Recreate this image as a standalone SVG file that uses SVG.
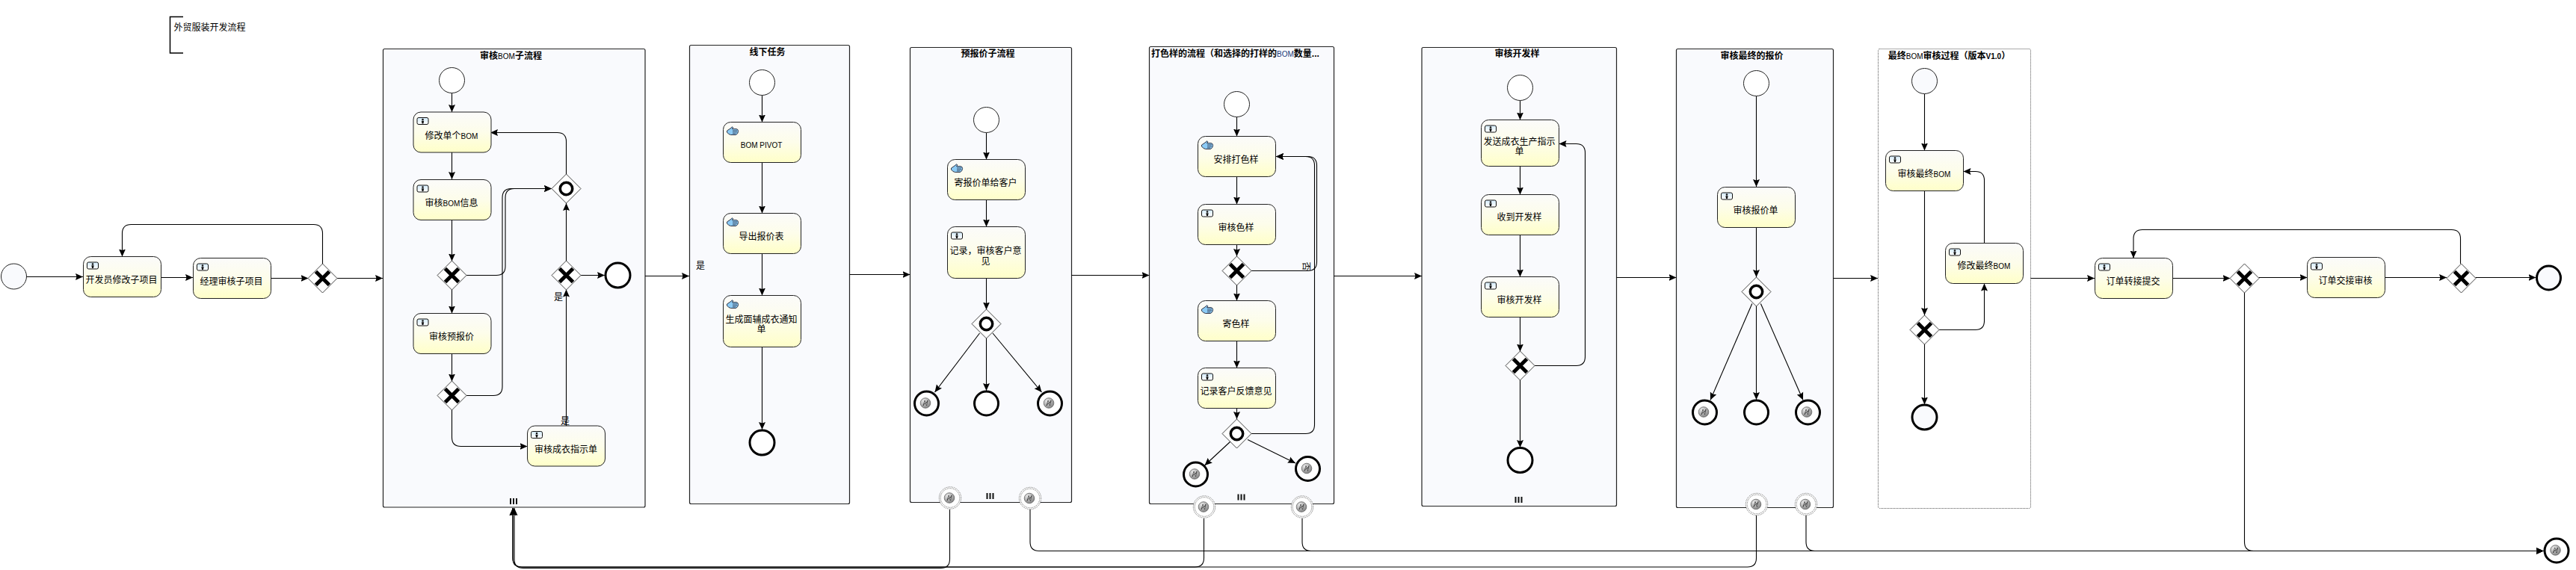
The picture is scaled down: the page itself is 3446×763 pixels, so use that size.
<svg xmlns="http://www.w3.org/2000/svg" xmlns:xlink="http://www.w3.org/1999/xlink" width="3446" height="763" viewBox="0 0 3446 763">
<style>
text{font-family:"Liberation Sans","Noto Sans CJK SC",sans-serif;font-size:12px;fill:#000}
.l{text-anchor:middle}
.b{font-weight:bold;text-anchor:middle}
.la{font-size:10px}
.sp{fill:#f9fafd;stroke:#222;stroke-width:1.2}
.task{fill:url(#tg);stroke:#222;stroke-width:1}
.c{fill:none;stroke:#000;stroke-width:1.1;marker-end:url(#a)}
.c0{fill:none;stroke:#000;stroke-width:1.1}
.gw{fill:#fff;stroke:#444;stroke-width:1}
.x{fill:none;stroke:#000;stroke-width:5}
.o{fill:none;stroke:#000;stroke-width:3.5}
.st{fill:#fff;stroke:#222;stroke-width:1}
.en{fill:#fff;stroke:#000;stroke-width:3}
.bd{fill:#fff;stroke:#444;stroke-width:.8;stroke-dasharray:1 1}
.bar{fill:#111}
</style>
<defs>
<linearGradient id="tg" x1="0" y1="0" x2="0" y2="1"><stop offset="0" stop-color="#fbfbfa"/><stop offset=".5" stop-color="#fdfdea"/><stop offset="1" stop-color="#ffffc8"/></linearGradient>
<linearGradient id="ug" x1="0" y1="0" x2="0" y2="1"><stop offset="0" stop-color="#d4ecfb"/><stop offset="1" stop-color="#fff"/></linearGradient>
<radialGradient id="eg" cx=".35" cy=".3" r=".8"><stop offset="0" stop-color="#eee"/><stop offset="1" stop-color="#777"/></radialGradient>
<marker id="a" viewBox="0 0 10 10" refX="10" refY="5" markerWidth="10" markerHeight="10" markerUnits="userSpaceOnUse" orient="auto"><path d="M0 .5L10 5L0 9.5L1.5 5Z" fill="#000"/></marker>
<g id="user"><rect x=".5" y=".5" width="15" height="9" rx="2" fill="url(#ug)" stroke="#111"/><circle cx="8" cy="3" r="1.3" fill="#111"/><path d="M6.3 4.8h3.4l-.8 3.6h-1.8z" fill="#111"/></g>
<g id="hand"><path d="M.5 6L5 3L7.5 .8L8.8 1.8L7.5 3.6H13Q15.6 4 15.6 6.5Q15.5 10 12.5 11.5H5.5Q2.5 11 .5 8Z" fill="#8ccbf5" stroke="#223" stroke-width=".9"/><path d="M8 5.8H14M8 7.8H14M8 9.8H12.5" stroke="#223" stroke-width=".7" fill="#fff"/></g>
<g id="err"><circle r="6.8" fill="url(#eg)" stroke="#666" stroke-width=".8"/><path d="M-3 3.5L-1 -3.5L1 .5L3 -3.5L1.5 3.5L-.5 -.5Z" fill="#fff" stroke="#333" stroke-width=".8"/></g>
<g id="bars"><rect x="-5" y="-4" width="2" height="8" class="bar"/><rect x="-1" y="-4" width="2" height="8" class="bar"/><rect x="3" y="-4" width="2" height="8" class="bar"/></g>
<g id="gx"><path class="gw" d="M0 -19.5L19.5 0L0 19.5L-19.5 0Z"/><path class="x" d="M-9 -9L9 9M9 -9L-9 9"/></g>
<g id="go"><path class="gw" d="M0 -19.5L19.5 0L0 19.5L-19.5 0Z"/><circle class="o" r="8.2"/></g>
<g id="bev"><circle class="bd" r="14.7"/><circle class="bd" r="12.8"/><use href="#err" x="-1" y="0"/></g>
</defs>
<rect width="3446" height="763" fill="#fff"/>

<g id="title-annotation">
<path d="M245 22.5H227.5V71H245" fill="none" stroke="#000" stroke-width="1.5"/>
<text x="232.5" y="40.5">外贸服装开发流程</text>
</g>

<g id="sp-review-bom"><rect class="sp" x="512.5" y="65.5" width="350.5" height="613.5" rx="2"/><text class="b" x="683.5" y="78.5">审核<tspan class="la" font-weight="normal">BOM</tspan>子流程</text><use href="#bars" x="687" y="671"/></g>
<g id="sp-offline"><rect class="sp" x="922.5" y="60.5" width="214" height="614" rx="2"/><text class="b" x="1026.5" y="74">线下任务</text></g>
<g id="sp-quote"><rect class="sp" x="1217.5" y="63.5" width="216" height="609" rx="2"/><text class="b" x="1321.5" y="76">预报价子流程</text><use href="#bars" x="1324.5" y="664"/></g>
<g id="sp-color"><rect class="sp" x="1537.5" y="62.5" width="247" height="612" rx="2"/><text class="b" x="1540" y="75.5" style="text-anchor:start">打色样的流程（和选择的打样的<tspan class="la" font-weight="normal" fill="#1a3a7a">BOM</tspan>数量...</text><use href="#bars" x="1660.5" y="665.5"/></g>
<g id="sp-devsample"><rect class="sp" x="1902" y="63.5" width="260.5" height="614" rx="2"/><text class="b" x="2029.5" y="76">审核开发样</text><use href="#bars" x="2031.5" y="669"/></g>
<g id="sp-finalquote"><rect class="sp" x="2242.5" y="65.5" width="210" height="614" rx="2"/><text class="b" x="2343.5" y="78.5">审核最终的报价</text></g>
<g id="sp-finalbom"><rect x="2512.5" y="65.5" width="204" height="615" rx="2" fill="#fff" stroke="#555" stroke-width="1" stroke-dasharray="1 1"/><text class="b" x="2607.5" y="78.5">最终<tspan class="la" font-weight="normal">BOM</tspan>审核过程（版本<tspan class="la">V1.0</tspan>）</text></g>

<g id="connectors">
<path class="c" d="M35.5 370.5H111"/>
<path class="c" d="M215 371.5H258"/>
<path class="c" d="M362 372.5H412.5"/>
<path class="c" d="M451 372.5H512"/>
<path class="c" d="M431.5 353V312.5Q431.5 300.5 419.5 300.5H175.5Q163.5 300.5 163.5 312.5V343.5"/>
<path class="c" d="M604.5 124.5V150"/>
<path class="c" d="M604.5 204V240"/>
<path class="c" d="M604.5 294.5V349.5"/>
<path class="c" d="M604.5 387.5V419.5"/>
<path class="c" d="M604.5 473.5V510.5"/>
<path class="c" d="M623.5 368.5H664Q676 368.5 676 356.5V264.5Q676 252.5 688 252.5H738"/>
<path class="c" d="M623.5 529.5H660Q672 529.5 672 517.5V264.5Q672 252.5 684 252.5H738"/>
<path class="c" d="M604.5 548.5V585.5Q604.5 597.5 616.5 597.5H705.5"/>
<path class="c" d="M757.5 570V387.5"/>
<path class="c" d="M757.5 349.5V272"/>
<path class="c" d="M757.5 233V189.5Q757.5 177.5 745.5 177.5H656"/>
<path class="c" d="M776.5 368.5H809"/>
<path class="c" d="M863 369.5H922"/>
<path class="c" d="M1019.5 127.5V163.5"/>
<path class="c" d="M1019.5 217.5V285.5"/>
<path class="c" d="M1019.5 339.5V395.5"/>
<path class="c" d="M1019.5 464.5V575"/>
<path class="c" d="M1137 367.5H1217.5"/>
<path class="c" d="M1319.5 177.5V213.5"/>
<path class="c" d="M1319.5 267.5V303.5"/>
<path class="c" d="M1319.5 372.5V414.5"/>
<path class="c" d="M1310.5 446L1250.5 525"/>
<path class="c" d="M1328 446L1393.5 525"/>
<path class="c" d="M1319.5 453V523"/>
<path class="c" d="M1433.5 368.5H1537.5"/>
<path class="c" d="M1654.5 156.5V182.5"/>
<path class="c" d="M1654.5 236.5V273.5"/>
<path class="c" d="M1654.5 327.5V343"/>
<path class="c" d="M1654.5 381.5V402.5"/>
<path class="c" d="M1654.5 456.5V492.5"/>
<path class="c" d="M1654.5 546.5V561"/>
<path class="c" d="M1646 591L1611.5 623"/>
<path class="c" d="M1669 588.5L1733 620"/>
<path class="c" d="M1673.5 580.5H1746.5Q1758.5 580.5 1758.5 568.5V221.5Q1758.5 209.5 1746.5 209.5H1707"/>
<path class="c" d="M1673.5 362.5H1749.5Q1761.5 362.5 1761.5 350.5V221.5Q1761.5 209.5 1749.5 209.5H1707"/>
<path class="c" d="M1784.5 369.5H1902"/>
<path class="c" d="M2033.5 134.5V160.5"/>
<path class="c" d="M2033.5 222.5V260.5"/>
<path class="c" d="M2033.5 314.5V370.5"/>
<path class="c" d="M2033.5 424.5V470.5"/>
<path class="c" d="M2033.5 508.5V599"/>
<path class="c" d="M2052.5 489.5H2108.5Q2120.5 489.5 2120.5 477.5V204.5Q2120.5 192.5 2108.5 192.5H2085.5"/>
<path class="c" d="M2162.5 371.5H2242.5"/>
<path class="c" d="M2349.5 128.5V250"/>
<path class="c" d="M2349.5 304.5V371"/>
<path class="c" d="M2349.5 409.5V535"/>
<path class="c" d="M2343.8 406.5L2288 535.5"/>
<path class="c" d="M2355.4 406.5L2412 535.5"/>
<path class="c" d="M2452.5 372.5H2512"/>
<path class="c" d="M2574.5 125.5V201.5"/>
<path class="c" d="M2574.5 255.5V422"/>
<path class="c" d="M2574.5 461V541.5"/>
<path class="c" d="M2593.5 441.5H2642.5Q2654.5 441.5 2654.5 429.5V379.5"/>
<path class="c" d="M2654.5 325.5V241.5Q2654.5 229.5 2642.5 229.5H2626.5"/>
<path class="c" d="M2716.5 372.5H2802"/>
<path class="c" d="M2906.5 372.5H2983.5"/>
<path class="c" d="M3021.5 371.5H3086.5"/>
<path class="c" d="M3190.5 371.5H3273"/>
<path class="c" d="M3311.5 371.5H3392.5"/>
<path class="c" d="M3291.5 353V319.5Q3291.5 307.5 3279.5 307.5H2866Q2854 307.5 2854 319.5V345.5"/>
<path class="c" d="M3002.5 391.5V725.5Q3002.5 737.5 3014.5 737.5H3402.5"/>
<path class="c" d="M1378 682V725.5Q1378 737.5 1390 737.5H3402.5"/>
<path class="c" d="M1742 694V725.5Q1742 737.5 1754 737.5H3402.5"/>
<path class="c" d="M2416 690V725.5Q2416 737.5 2428 737.5H3402.5"/>
<path class="c" d="M1270.5 682V748.5Q1270.5 760.5 1258.5 760.5H700Q688 760.5 688 748.5V680"/>
<path class="c" d="M1610.5 694V747Q1610.5 759 1598.5 759H698Q686 759 686 747V680"/>
<path class="c" d="M2349.5 690V747Q2349.5 759 2337.5 759H698Q686 759 686 747V680"/>
<g id="edge-labels">
<text class="l" x="747" y="402">是</text>
<text class="l" x="756" y="567.5">是</text>
<text class="l" x="937" y="360">是</text>
<text class="l" transform="translate(1743 356.5) rotate(90)">否</text>
</g>
</g>

<g id="ev-start"><circle cx="18.5" cy="370" r="17" fill="#f9fafd" stroke="#222"/></g>
<g id="t-dev-edit"><rect class="task" x="111.5" y="343.5" width="104" height="54" rx="10"/><use href="#user" x="116" y="350.5"/><text class="l" x="162.5" y="378.5">开发员修改子项目</text></g>
<g id="t-mgr-review"><rect class="task" x="258.5" y="345.5" width="104" height="54" rx="10"/><use href="#user" x="263" y="352.5"/><text class="l" x="309.5" y="380.5">经理审核子项目</text></g>
<use id="g-1" href="#gx" x="431.5" y="372.5"/>

<g id="sp1-start"><circle class="st" cx="604.5" cy="107.5" r="17"/></g>
<g id="t-edit-bom"><rect class="task" x="553" y="150" width="104" height="54" rx="10"/><use href="#user" x="557.5" y="157"/><text class="l" x="604" y="185.5">修改单个<tspan class="la">BOM</tspan></text></g>
<g id="t-review-bom"><rect class="task" x="553" y="240.5" width="104" height="54" rx="10"/><use href="#user" x="557.5" y="247.5"/><text class="l" x="604" y="275.5">审核<tspan class="la">BOM</tspan>信息</text></g>
<use id="g-2" href="#gx" x="604.5" y="368.5"/>
<g id="t-review-prequote"><rect class="task" x="553" y="419.5" width="104" height="54" rx="10"/><use href="#user" x="557.5" y="426.5"/><text class="l" x="604" y="454.5">审核预报价</text></g>
<use id="g-3" href="#gx" x="604.5" y="529.5"/>
<g id="t-review-garment"><rect class="task" x="705.5" y="570" width="104" height="54" rx="10"/><use href="#user" x="710" y="577"/><text class="l" x="757" y="606">审核成衣指示单</text></g>
<use id="g-4" href="#gx" x="757.5" y="368.5"/>
<use id="g-5" href="#go" x="757.5" y="252.5"/>
<g id="sp1-end"><circle class="en" cx="826.5" cy="368.5" r="16.5"/></g>

<g id="sp2-start"><circle class="st" cx="1019.5" cy="110.5" r="17"/></g>
<g id="t-bom-pivot"><rect class="task" x="967.5" y="163.5" width="104" height="54" rx="10"/><use href="#hand" x="972" y="169"/><text class="l la" x="1018.5" y="198">BOM PIVOT</text></g>
<g id="t-export"><rect class="task" x="967.5" y="285.5" width="104" height="54" rx="10"/><use href="#hand" x="972" y="291"/><text class="l" x="1018.5" y="320.5">导出报价表</text></g>
<g id="t-notice"><rect class="task" x="967.5" y="395.5" width="104" height="69" rx="10"/><use href="#hand" x="972" y="401"/><text class="l" x="1018.5" y="431.5">生成面辅成衣通知</text><text class="l" x="1018.5" y="445">单</text></g>
<g id="sp2-end"><circle class="en" cx="1019.5" cy="592.5" r="16.5"/></g>

<g id="sp3-start"><circle class="st" cx="1319.5" cy="160.5" r="17"/></g>
<g id="t-send-quote"><rect class="task" x="1267.5" y="213.5" width="104" height="54" rx="10"/><use href="#hand" x="1272" y="219"/><text class="l" x="1318.5" y="248.5">寄报价单给客户</text></g>
<g id="t-record-opinion"><rect class="task" x="1267.5" y="303.5" width="104" height="69" rx="10"/><use href="#user" x="1272" y="310.5"/><text class="l" x="1318.5" y="339.5">记录，审核客户意</text><text class="l" x="1318.5" y="354">见</text></g>
<use id="g-6" href="#go" x="1319.5" y="433.5"/>
<g id="sp3-end-a"><circle class="en" cx="1239.5" cy="540" r="16"/><use href="#err" x="1238" y="539.5"/></g>
<g id="sp3-end-b"><circle class="en" cx="1319.5" cy="540" r="16"/></g>
<g id="sp3-end-c"><circle class="en" cx="1404.5" cy="540" r="16"/><use href="#err" x="1403" y="539.5"/></g>
<use id="b-1" href="#bev" x="1271" y="666.5"/>
<use id="b-2" href="#bev" x="1378" y="667"/>

<g id="sp4-start"><circle class="st" cx="1654.5" cy="139.5" r="17"/></g>
<g id="t-arrange"><rect class="task" x="1602.5" y="182.5" width="104" height="54" rx="10"/><use href="#hand" x="1607" y="188"/><text class="l" x="1653.5" y="217.5">安排打色样</text></g>
<g id="t-review-color"><rect class="task" x="1602.5" y="273.5" width="104" height="54" rx="10"/><use href="#user" x="1607" y="280.5"/><text class="l" x="1653.5" y="308.5">审核色样</text></g>
<use id="g-7" href="#gx" x="1654.5" y="362.5"/>
<g id="t-send-color"><rect class="task" x="1602.5" y="402.5" width="104" height="54" rx="10"/><use href="#hand" x="1607" y="408"/><text class="l" x="1653.5" y="437.5">寄色样</text></g>
<g id="t-record-feedback"><rect class="task" x="1602.5" y="492.5" width="104" height="54" rx="10"/><use href="#user" x="1607" y="499.5"/><text class="l" x="1653.5" y="527.5">记录客户反馈意见</text></g>
<use id="g-8" href="#go" x="1654.5" y="580.5"/>
<g id="sp4-end-a"><circle class="en" cx="1599.5" cy="635" r="16"/><use href="#err" x="1598" y="634.5"/></g>
<g id="sp4-end-b"><circle class="en" cx="1749.5" cy="627.5" r="16"/><use href="#err" x="1748" y="627"/></g>
<use id="b-3" href="#bev" x="1611" y="678.5"/>
<use id="b-4" href="#bev" x="1742" y="678.5"/>

<g id="sp5-start"><circle class="st" cx="2033.5" cy="117.5" r="17"/></g>
<g id="t-send-order"><rect class="task" x="1981.5" y="160.5" width="104" height="62" rx="10"/><use href="#user" x="1986" y="167.5"/><text class="l" x="2032.5" y="194">发送成衣生产指示</text><text class="l" x="2032.5" y="207">单</text></g>
<g id="t-receive"><rect class="task" x="1981.5" y="260.5" width="104" height="54" rx="10"/><use href="#user" x="1986" y="267.5"/><text class="l" x="2032.5" y="295">收到开发样</text></g>
<g id="t-review-dev"><rect class="task" x="1981.5" y="370.5" width="104" height="54" rx="10"/><use href="#user" x="1986" y="377.5"/><text class="l" x="2032.5" y="405.5">审核开发样</text></g>
<use id="g-9" href="#gx" x="2033.5" y="489.5"/>
<g id="sp5-end"><circle class="en" cx="2033.5" cy="616" r="16.5"/></g>

<g id="sp6-start"><circle class="st" cx="2349.5" cy="111.5" r="17"/></g>
<g id="t-review-quote"><rect class="task" x="2297.5" y="250.5" width="104" height="54" rx="10"/><use href="#user" x="2302" y="257.5"/><text class="l" x="2348.5" y="285.5">审核报价单</text></g>
<use id="g-10" href="#go" x="2349.5" y="390.5"/>
<g id="sp6-end-a"><circle class="en" cx="2280.5" cy="552" r="16"/><use href="#err" x="2279" y="551.5"/></g>
<g id="sp6-end-b"><circle class="en" cx="2349.5" cy="552" r="16"/></g>
<g id="sp6-end-c"><circle class="en" cx="2418.5" cy="552" r="16"/><use href="#err" x="2417" y="551.5"/></g>
<use id="b-5" href="#bev" x="2350" y="675"/>
<use id="b-6" href="#bev" x="2416" y="675"/>

<g id="sp7-start"><circle class="st" cx="2574.5" cy="108.5" r="17" style="fill:#f9fafd"/></g>
<g id="t-review-final"><rect class="task" x="2522.5" y="201.5" width="104" height="54" rx="10"/><use href="#user" x="2527" y="208.5"/><text class="l" x="2574" y="236.5">审核最终<tspan class="la">BOM</tspan></text></g>
<g id="t-edit-final"><rect class="task" x="2602.5" y="325.5" width="104" height="54" rx="10"/><use href="#user" x="2607" y="332.5"/><text class="l" x="2654" y="360">修改最终<tspan class="la">BOM</tspan></text></g>
<use id="g-11" href="#gx" x="2574.5" y="441.5"/>
<g id="sp7-end"><circle class="en" cx="2574.5" cy="558.5" r="16.5" style="fill:#f9fafd"/></g>

<g id="t-order-submit"><rect class="task" x="2802.5" y="345.5" width="104" height="54" rx="10"/><use href="#user" x="2807" y="352.5"/><text class="l" x="2853.5" y="380.5">订单转接提交</text></g>
<use id="g-12" href="#gx" x="3002.5" y="372.5"/>
<g id="t-order-review"><rect class="task" x="3086.5" y="344.5" width="104" height="54" rx="10"/><use href="#user" x="3091" y="351.5"/><text class="l" x="3137.5" y="379.5">订单交接审核</text></g>
<use id="g-13" href="#gx" x="3292.5" y="372.5"/>
<g id="end-main"><circle class="en" cx="3409.5" cy="372" r="16" style="fill:#f9fafd"/></g>
<g id="end-error"><circle class="en" cx="3420" cy="737" r="16"/><use href="#err" x="3418.5" y="736.5"/></g>
</svg>
